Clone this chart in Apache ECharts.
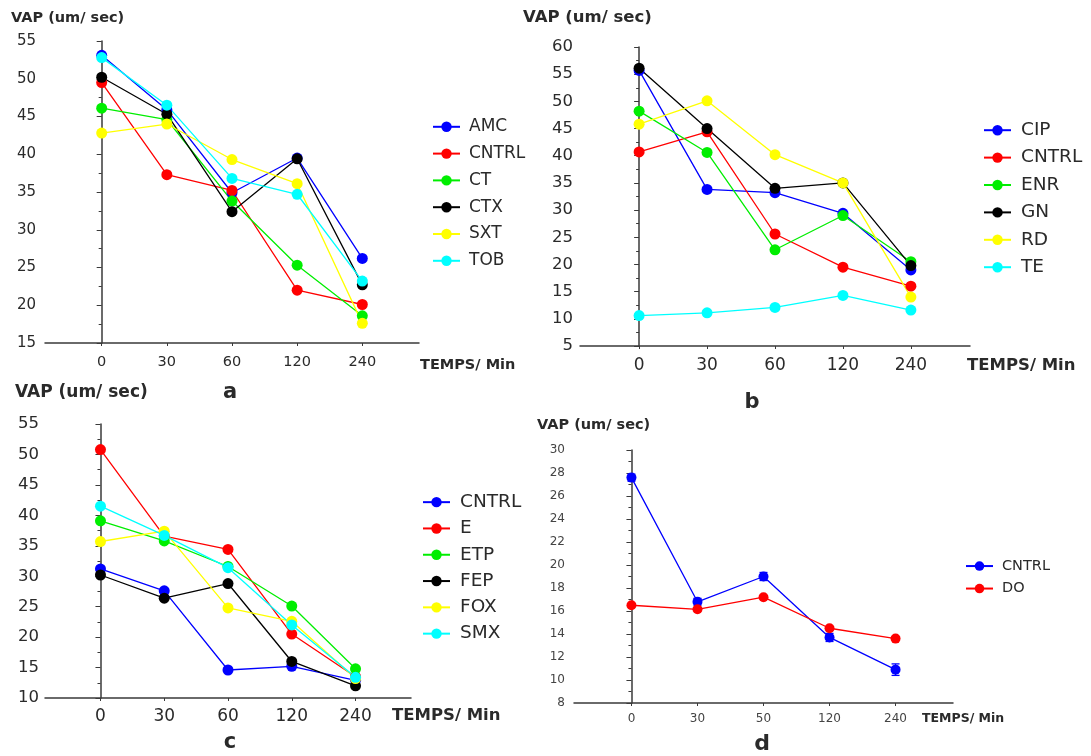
<!DOCTYPE html>
<html>
<head>
<meta charset="utf-8">
<title>VAP (um/ sec)</title>
<script src="https://cdn.jsdelivr.net/npm/echarts@6/dist/echarts.min.js"></script>
<style>
  html, body { margin: 0; padding: 0; background: #ffffff; }
  .panel { position: absolute; left: 0; top: 0; width: 1091px; height: 756px; }
</style>
</head>
<body>
<div id="panelA" class="panel"></div>
<div id="panelB" class="panel"></div>
<div id="panelC" class="panel"></div>
<div id="panelD" class="panel"></div>
<script>
// Time points (minutes)
const timeLabels = ['0', '30', '60', '120', '240'];
const timeLabelsD = ['0', '30', '50', '120', '240'];

// Panel a
const seriesNamesA = ['AMC', 'CNTRL', 'CT', 'CTX', 'SXT', 'TOB'];
const amcA   = [53.1, 45.9, 34.9, 39.5, 26.2];
const cntrlA = [49.5, 37.3, 35.2, 22.0, 20.1];
const ctA    = [46.1, 44.6, 33.8, 25.3, 18.6];
const ctxA   = [50.2, 45.3, 32.4, 39.4, 22.7];
const sxtA   = [42.8, 44.0, 39.3, 36.1, 17.6];
const tobA   = [52.8, 46.5, 36.8, 34.7, 23.2];

// Panel b
const seriesNamesB = ['CIP', 'CNTRL', 'ENR', 'GN', 'RD', 'TE'];
const cipB   = [55.7, 33.8, 33.2, 29.4, 19.0];
const cntrlB = [40.7, 44.4, 25.6, 19.5, 16.0];
const enrB   = [48.2, 40.6, 22.7, 29.0, 20.5];
const gnB    = [56.1, 45.0, 34.0, 35.0, 19.8];
const rdB    = [45.8, 50.1, 40.2, 35.0, 14.0];
const teB    = [10.6, 11.1, 12.1, 14.3, 11.6];

// Panel c
const seriesNamesC = ['CNTRL', 'E', 'ETP', 'FEP', 'FOX', 'SMX'];
const cntrlC = [31.2, 27.6, 14.6, 15.2, 12.9];
const eC     = [50.8, 36.6, 34.4, 20.5, 13.5];
const etpC   = [39.1, 35.8, 31.6, 25.1, 14.8];
const fepC   = [30.2, 26.4, 28.8, 16.0, 12.0];
const foxC   = [35.7, 37.4, 24.8, 22.6, 13.2];
const smxC   = [41.5, 36.7, 31.4, 22.0, 13.4];

// Panel d
const seriesNamesD = ['CNTRL', 'DO'];
const cntrlD    = [27.6, 16.8, 19.0, 13.7, 10.9];
const cntrlDErr = [0.3, 0.3, 0.35, 0.35, 0.5];
const doD       = [16.5, 16.15, 17.2, 14.5, 13.6];

const palette = ['#0000ff', '#ff0000', '#00ee00', '#000000', '#ffff00', '#00ffff'];
const FONT = "'DejaVu Sans', 'Liberation Sans', Arial, sans-serif";
const TXT = '#2a2a2a';

function textEl(x, y, text, size, align, color) {
  return {
    type: 'text', x: x, y: y, silent: true,
    style: {
      text: text, fill: color || TXT, fontFamily: FONT, fontWeight: 'bold',
      fontSize: size, textAlign: align || 'left', textVerticalAlign: 'middle'
    }
  };
}

function makePanel(id, p) {
  const chart = echarts.init(document.getElementById(id));
  const ticks = p.labels.map((_, i) => i);
  const series = p.lines.map((l, k) => ({
    type: 'line',
    name: p.names[k],
    data: l.map((v, i) => [i, v]),
    symbol: 'circle',
    symbolSize: p.symbolSize,
    lineStyle: { color: palette[p.colors[k]], width: 1.3 },
    itemStyle: { color: palette[p.colors[k]] },
    emphasis: { disabled: true },
    z: 2
  }));
  if (p.errors) {
    // Vertical error bars with caps for the first series
    const base = p.lines[0];
    series.unshift({
      type: 'custom',
      name: 'err',
      silent: true,
      z: 1,
      data: base.map((v, i) => [i, v - p.errors[i], v + p.errors[i]]),
      renderItem: function (params, api) {
        const lo = api.coord([api.value(0), api.value(1)]);
        const hi = api.coord([api.value(0), api.value(2)]);
        const cap = 4;
        const st = { stroke: palette[p.colors[0]], lineWidth: 1.3 };
        return {
          type: 'group',
          children: [
            { type: 'line', shape: { x1: lo[0], y1: lo[1], x2: hi[0], y2: hi[1] }, style: st },
            { type: 'line', shape: { x1: lo[0] - cap, y1: lo[1], x2: lo[0] + cap, y2: lo[1] }, style: st },
            { type: 'line', shape: { x1: hi[0] - cap, y1: hi[1], x2: hi[0] + cap, y2: hi[1] }, style: st }
          ]
        };
      }
    });
  }
  chart.setOption({
    animation: false,
    grid: p.grid,
    xAxis: {
      type: 'value',
      min: -0.87, max: 4.87,
      axisLine: { lineStyle: { color: '#3a3a3a', width: 1.5 } },
      axisTick: { customValues: ticks, length: 3, lineStyle: { color: '#3a3a3a' } },
      axisLabel: {
        customValues: ticks,
        formatter: v => p.labels[Math.round(v)],
        color: p.tickColor, fontFamily: FONT, fontSize: p.xFont, margin: p.xMargin
      },
      splitLine: { show: false }
    },
    yAxis: {
      type: 'value',
      min: p.yMin, max: p.yMax, interval: p.yInterval,
      axisLine: { show: true, lineStyle: { color: '#3a3a3a', width: 1.5 } },
      axisTick: { show: true, length: 5, lineStyle: { color: '#3a3a3a' } },
      minorTick: { show: true, splitNumber: 2, length: 3, lineStyle: { color: '#3a3a3a' } },
      axisLabel: { color: p.tickColor, fontFamily: FONT, fontSize: p.yFont, margin: p.yMargin },
      splitLine: { show: false }
    },
    legend: {
      orient: 'vertical',
      left: p.legend.left, top: p.legend.top,
      padding: 0,
      itemWidth: 27, itemHeight: p.legend.iconH,
      itemGap: 0,
      selectedMode: false,
      data: p.names,
      textStyle: {
        color: TXT, fontFamily: FONT, fontSize: p.legend.font,
        lineHeight: p.legend.row, padding: [0, 0, 0, p.legend.pad]
      }
    },
    graphic: p.texts,
    series: series
  });
}

// a
makePanel('panelA', {
  names: seriesNamesA, lines: [amcA, cntrlA, ctA, ctxA, sxtA, tobA], colors: [0, 1, 2, 3, 4, 5],
  labels: timeLabels,
  grid: { left: 45, top: 41, width: 374, height: 302 },
  yMin: 15, yMax: 55, yInterval: 5,
  yFont: 15, xFont: 14.5, yMargin: 9, xMargin: 12, tickColor: TXT, symbolSize: 11,
  legend: { left: 432, top: 113.4, row: 26.8, font: 17, iconH: 13, pad: 4 },
  texts: [
    textEl(11, 18, 'VAP (um/ sec)', 14.5),
    textEl(420, 365, 'TEMPS/ Min', 14.5),
    textEl(230, 393, 'a', 21, 'center')
  ]
});

// b
makePanel('panelB', {
  names: seriesNamesB, lines: [cipB, cntrlB, enrB, gnB, rdB, teB], colors: [0, 1, 2, 3, 4, 5],
  labels: timeLabels,
  grid: { left: 580, top: 47, width: 390, height: 299 },
  yMin: 5, yMax: 60, yInterval: 5,
  yFont: 16.5, xFont: 17, yMargin: 7, xMargin: 11, tickColor: TXT, symbolSize: 11,
  legend: { left: 983, top: 116.5, row: 27.4, font: 18.5, iconH: 13, pad: 5 },
  texts: [
    textEl(523, 18, 'VAP (um/ sec)', 16.5),
    textEl(967, 366, 'TEMPS/ Min', 16.5),
    textEl(752, 403, 'b', 21, 'center')
  ]
});

// c
makePanel('panelC', {
  names: seriesNamesC, lines: [cntrlC, eC, etpC, fepC, foxC, smxC], colors: [0, 1, 2, 3, 4, 5],
  labels: timeLabels,
  grid: { left: 45, top: 424, width: 366, height: 274 },
  yMin: 10, yMax: 55, yInterval: 5,
  yFont: 16.5, xFont: 17, yMargin: 6, xMargin: 10, tickColor: TXT, symbolSize: 11,
  legend: { left: 422, top: 489, row: 26.3, font: 18.5, iconH: 13, pad: 5 },
  texts: [
    textEl(15, 393, 'VAP (um/ sec)', 17),
    textEl(392, 716, 'TEMPS/ Min', 16.5),
    textEl(230, 743, 'c', 21, 'center')
  ]
});

// d
makePanel('panelD', {
  names: seriesNamesD, lines: [cntrlD, doD], colors: [0, 1],
  errors: cntrlDErr,
  labels: timeLabelsD,
  grid: { left: 574, top: 450, width: 379, height: 253 },
  yMin: 8, yMax: 30, yInterval: 2,
  yFont: 12, xFont: 12, yMargin: 9, xMargin: 10, tickColor: '#444444', symbolSize: 10,
  legend: { left: 965, top: 554.8, row: 22.5, font: 14.5, iconH: 12, pad: 4 },
  texts: [
    textEl(537, 425, 'VAP (um/ sec)', 14.5),
    textEl(922, 719, 'TEMPS/ Min', 12.5),
    textEl(762, 744, 'd', 22, 'center')
  ]
});
</script>
</body>
</html>
